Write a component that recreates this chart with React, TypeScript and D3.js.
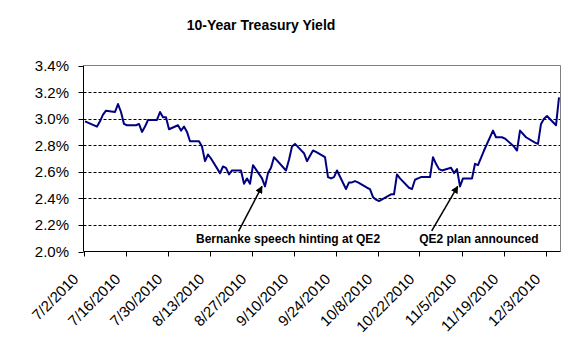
import { useEffect, useRef } from 'react'
import * as d3 from 'd3'

// daily 10-year yield, 2010 (M/D)
const DATES = [
  '7/2', '7/6', '7/7', '7/8', '7/9', '7/12', '7/13', '7/14', '7/15', '7/16',
  '7/19', '7/20', '7/21', '7/22', '7/23', '7/26', '7/27', '7/28', '7/29', '7/30',
  '8/2', '8/3', '8/4', '8/5', '8/6', '8/9', '8/10', '8/11', '8/12', '8/13',
  '8/16', '8/17', '8/18', '8/19', '8/20', '8/23', '8/24', '8/25', '8/26', '8/27',
  '8/30', '8/31', '9/1', '9/2', '9/3', '9/7', '9/8', '9/9', '9/10',
  '9/13', '9/14', '9/15', '9/16', '9/17', '9/20', '9/21', '9/22', '9/23', '9/24',
  '9/27', '9/28', '9/29', '9/30', '10/1', '10/4', '10/5', '10/6', '10/7', '10/8',
  '10/12', '10/13', '10/14', '10/15', '10/18', '10/19', '10/20', '10/21', '10/22',
  '10/25', '10/26', '10/27', '10/28', '10/29', '11/1', '11/2', '11/3', '11/4', '11/5',
  '11/8', '11/9', '11/10', '11/12', '11/15', '11/16', '11/17', '11/18', '11/19',
  '11/22', '11/23', '11/24', '11/26', '11/29', '11/30', '12/1', '12/2', '12/3',
  '12/6', '12/7',
]

const YIELDS = [
  2.98, 2.94, 2.98, 3.03, 3.06, 3.05, 3.11, 3.05, 2.96, 2.95,
  2.95, 2.96, 2.90, 2.94, 2.99, 2.99, 3.05, 3.01, 3.01, 2.92,
  2.95, 2.91, 2.94, 2.90, 2.83, 2.83, 2.79, 2.68, 2.73, 2.70,
  2.59, 2.64, 2.63, 2.58, 2.61, 2.61, 2.51, 2.55, 2.51, 2.65,
  2.55, 2.49, 2.59, 2.63, 2.71, 2.61, 2.69, 2.79, 2.81,
  2.74, 2.68, 2.72, 2.76, 2.75, 2.71, 2.56, 2.55, 2.56, 2.61,
  2.47, 2.52, 2.52, 2.53, 2.52, 2.48, 2.47, 2.41, 2.39, 2.38,
  2.43, 2.43, 2.58, 2.55, 2.48, 2.47, 2.54, 2.55, 2.56,
  2.56, 2.71, 2.66, 2.62, 2.61, 2.63, 2.59, 2.62, 2.49, 2.55,
  2.55, 2.66, 2.65, 2.76, 2.91, 2.86, 2.86, 2.86, 2.85,
  2.79, 2.76, 2.91, 2.86, 2.82, 2.81, 2.96, 3.00, 3.02,
  2.95, 3.16,
]

const TICK_LABELS = [
  '7/2/2010', '7/16/2010', '7/30/2010', '8/13/2010', '8/27/2010', '9/10/2010',
  '9/24/2010', '10/8/2010', '10/22/2010', '11/5/2010', '11/19/2010', '12/3/2010',
]

const Y_TICKS = [2.0, 2.2, 2.4, 2.6, 2.8, 3.0, 3.2, 3.4]

const NOTES = [
  { label: 'Bernanke speech hinting at QE2', date: '8/31', value: 2.49 },
  { label: 'QE2 plan announced', date: '11/4', value: 2.49 },
]

const W = 576
const H = 351
const M = { left: 83.5, right: 560.5, top: 65.5, bottom: 251.5 }

const parse = (s: string) => {
  const [m, d, y] = s.split('/').map(Number)
  return new Date(Date.UTC(y || 2010, m - 1, d))
}
const mid = (d: Date) => d3.utcHour.offset(d, 12)

export default function App() {
  const ref = useRef<SVGSVGElement>(null)

  useEffect(() => {
    if (!ref.current) return
    const svg = d3.select(ref.current)
    svg.selectAll('*').remove()

    const data = DATES.map((d, i) => ({ date: parse(d), value: YIELDS[i] }))

    const x = d3.scaleUtc()
      .domain([parse('7/2'), parse('12/8')])
      .range([M.left, M.right])
    const y = d3.scaleLinear().domain([2.0, 3.4]).range([M.bottom, M.top])

    svg.append('defs').append('marker')
      .attr('id', 'arrow')
      .attr('viewBox', '0 0 10 10')
      .attr('refX', 9).attr('refY', 5)
      .attr('markerWidth', 5).attr('markerHeight', 5)
      .attr('markerUnits', 'strokeWidth')
      .attr('orient', 'auto')
      .append('path').attr('d', 'M0,0 L10,5 L0,10 Z').attr('fill', '#000')

    // title
    svg.append('text')
      .attr('x', 261).attr('y', 29.5)
      .attr('text-anchor', 'middle')
      .attr('font-family', 'Liberation Sans, Arial, sans-serif')
      .attr('font-size', 14).attr('font-weight', 'bold')
      .text('10-Year Treasury Yield')

    // gridlines
    svg.append('g').selectAll('line')
      .data(Y_TICKS.filter(t => t > 2.0 && t < 3.4))
      .enter().append('line')
      .attr('x1', M.left).attr('x2', M.right)
      .attr('y1', d => Math.round(y(d)) + 0.5).attr('y2', d => Math.round(y(d)) + 0.5)
      .attr('stroke', '#000').attr('stroke-dasharray', '3,2')

    // plot border top/right
    svg.append('path')
      .attr('d', `M${M.left},${M.top}H${M.right}V${M.bottom}`)
      .attr('fill', 'none').attr('stroke', '#808080')

    // y axis
    const gy = svg.append('g')
    gy.append('line')
      .attr('x1', M.left).attr('x2', M.left)
      .attr('y1', M.top).attr('y2', M.bottom)
      .attr('stroke', '#000')
    gy.selectAll('line.tick')
      .data(Y_TICKS).enter().append('line')
      .attr('class', 'tick')
      .attr('x1', M.left - 5).attr('x2', M.left)
      .attr('y1', d => Math.round(y(d)) + 0.5).attr('y2', d => Math.round(y(d)) + 0.5)
      .attr('stroke', '#000')
    gy.selectAll('text')
      .data(Y_TICKS).enter().append('text')
      .attr('x', 69).attr('y', d => y(d) + 5.5)
      .attr('text-anchor', 'end')
      .attr('font-family', 'Liberation Sans, Arial, sans-serif')
      .attr('font-size', 15)
      .text(d => d3.format('.1f')(d) + '%')

    // x axis
    const ticks = TICK_LABELS.map(parse)
    const gx = svg.append('g')
    gx.append('line')
      .attr('x1', M.left).attr('x2', M.right)
      .attr('y1', M.bottom).attr('y2', M.bottom)
      .attr('stroke', '#000')
    gx.selectAll('line.tick')
      .data(ticks).enter().append('line')
      .attr('class', 'tick')
      .attr('x1', d => Math.round(x(d)) + 0.5).attr('x2', d => Math.round(x(d)) + 0.5)
      .attr('y1', M.bottom).attr('y2', M.bottom + 5)
      .attr('stroke', '#000')
    gx.selectAll('text')
      .data(ticks).enter().append('text')
      .attr('transform', (d, i) => `translate(${x(d) - 4},280) rotate(-45)`)
      .attr('text-anchor', 'end')
      .attr('font-family', 'Liberation Sans, Arial, sans-serif')
      .attr('font-size', 15)
      .text((d, i) => TICK_LABELS[i])

    // series
    const line = d3.line<{ date: Date; value: number }>()
      .x(d => x(mid(d.date)))
      .y(d => y(d.value))
    svg.append('path')
      .datum(data)
      .attr('d', line)
      .attr('fill', 'none')
      .attr('stroke', '#000080')
      .attr('stroke-width', 2)
      .attr('stroke-linejoin', 'round')

    // annotations
    const offsets = [
      { tip: [-3, 0], tail: [-23.5, 45], text: [-42.5, 11.8] },
      { tip: [-2.3, 0], tail: [-26, 44.5], text: [-12.5, 12.3] },
    ]
    NOTES.forEach((n, i) => {
      const o = offsets[i]
      const tx = x(mid(parse(n.date))) + o.tip[0]
      const ty = y(n.value) + o.tip[1]
      const sx = tx + o.tail[0]
      const sy = ty + o.tail[1]
      svg.append('line')
        .attr('x1', sx).attr('y1', sy).attr('x2', tx).attr('y2', ty)
        .attr('stroke', '#000').attr('stroke-width', 1.5)
        .attr('marker-end', 'url(#arrow)')
      svg.append('text')
        .attr('x', sx + o.text[0]).attr('y', sy + o.text[1])
        .attr('font-family', 'Liberation Sans, Arial, sans-serif')
        .attr('font-size', 12).attr('font-weight', 'bold')
        .text(n.label)
    })
  }, [])

  return (
    <svg
      ref={ref}
      width={W}
      height={H}
      style={{ position: 'absolute', left: 0, top: 0, background: '#fff', display: 'block' }}
    />
  )
}
